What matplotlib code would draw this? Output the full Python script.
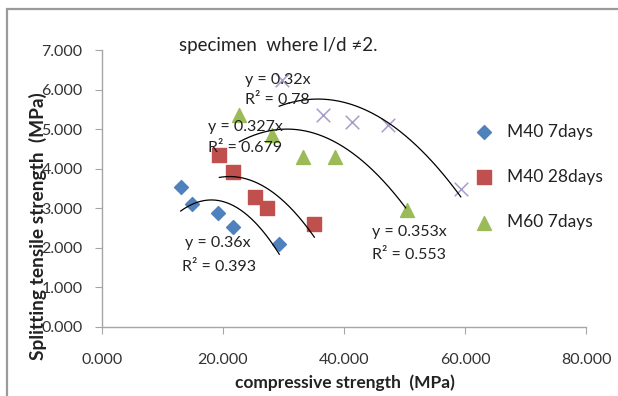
import numpy as np
import matplotlib
matplotlib.use("Agg")
import matplotlib.pyplot as plt
from matplotlib.patches import Rectangle

plt.rcParams['font.family'] = ['Lato', 'DejaVu Sans']

# ---- data ----
m40_7_x = [13.0, 14.8, 19.1, 21.6, 29.3]
m40_7_y = [3.54, 3.11, 2.88, 2.53, 2.10]
m40_28_x = [19.3, 21.7, 25.3, 27.3, 35.1]
m40_28_y = [4.35, 3.92, 3.29, 3.01, 2.60]
m60_7_x = [22.7, 28.1, 33.3, 38.5, 50.4]
m60_7_y = [5.36, 4.85, 4.30, 4.30, 2.96]
m60_28_x = [29.8, 36.5, 41.3, 47.2, 59.4]
m60_28_y = [6.24, 5.36, 5.18, 5.10, 3.49]

legend_labels = ["M40 7days", "M40 28days", "M60 7days"]

# trend curves: three points each (start, top, end)
trend_blue_x = [13.0, 18.3, 29.3]
trend_blue_y = [2.93, 3.21, 1.84]
trend_red_x = [19.4, 21.6, 35.1]
trend_red_y = [3.78, 3.80, 2.27]
trend_green_x = [22.7, 30.1, 50.2]
trend_green_y = [4.68, 5.00, 3.01]
trend_purple_x = [29.3, 35.9, 59.3]
trend_purple_y = [5.58, 5.76, 3.29]

eq_texts = ["y = 0.32x", "R\u00b2 = 0.78", "y = 0.327x", "R\u00b2 = 0.679",
            "y = 0.36x", "R\u00b2 = 0.393", "y = 0.353x", "R\u00b2 = 0.553"]
eq_x = [23.6, 23.6, 17.5, 17.5, 13.8, 13.2, 44.6, 44.6]
eq_y = [6.24, 5.74, 5.06, 4.53, 2.12, 1.52, 2.40, 1.82]

x_ticks = [0, 20, 40, 60, 80]
y_ticks = [0, 1, 2, 3, 4, 5, 6, 7]

W, H = 618, 396
fig = plt.figure(figsize=(W / 100, H / 100), dpi=100)
ax = fig.add_axes([102 / W, 1 - 327 / H, (586 - 102) / W, (327 - 50) / H])

# frame border of the picture
fig.patches.append(Rectangle((7 / W, -0.05), 1.1, 1 - 9 / H + 0.05, transform=fig.transFigure,
                             fill=False, edgecolor='#9a9a9a', lw=1.6))

ax.scatter(m40_7_x, m40_7_y, marker='D', s=50, color='#4F81BD', label=legend_labels[0], zorder=3)
ax.scatter(m40_28_x, m40_28_y, marker='s', s=90, color='#C0504D', label=legend_labels[1], zorder=3)
ax.scatter(m60_7_x, m60_7_y, marker='^', s=100, color='#9BBB59', label=legend_labels[2], zorder=3)
ax.scatter(m60_28_x, m60_28_y, marker='x', s=95, color='#A99BCC', linewidths=1.1, zorder=3)

for tx, ty in [(trend_blue_x, trend_blue_y), (trend_red_x, trend_red_y),
               (trend_green_x, trend_green_y), (trend_purple_x, trend_purple_y)]:
    c = np.polyfit(tx, ty, 2)
    xs = np.linspace(tx[0], tx[-1], 200)
    ax.plot(xs, np.polyval(c, xs), color='black', lw=0.9, zorder=4)

for t, x, y in zip(eq_texts, eq_x, eq_y):
    ax.text(x, y, t, fontsize=11.5, color='#222222', va='center', ha='left', zorder=5)

ax.set_xlim(0, 80)
ax.set_ylim(0, 7)
ax.set_xticks(x_ticks)
ax.set_yticks(y_ticks)
ax.set_xticklabels([f"{v:.3f}" for v in x_ticks])
ax.set_yticklabels([f"{v:.3f}" for v in y_ticks])
for s in ['top', 'right']:
    ax.spines[s].set_visible(False)
for s in ['left', 'bottom']:
    ax.spines[s].set_color('#a6a6a6')
    ax.spines[s].set_linewidth(1.0)
ax.tick_params(axis='both', direction='out', length=5, color='#a6a6a6', labelsize=11.5,
               labelcolor='#333333')
ax.tick_params(axis='x', pad=14)
ax.tick_params(axis='y', pad=9)

fig.text(278 / W, 1 - 45 / H, "specimen  where l/d \u22602.", fontsize=13.5, ha='center', va='center',
         color='#222222')
fig.text(345 / W, 1 - 383 / H, "compressive strength  (MPa)", fontsize=12.5, fontweight='bold',
         ha='center', va='center', color='#222222')
fig.text(38 / W, 1 - 226 / H, "Splitting tensile strength  (MPa)", fontsize=13.8, fontweight='bold',
         ha='center', va='center', rotation=90, color='#222222')

fig.legend(loc='center left', bbox_to_anchor=(475 / W, 1 - 177 / H), frameon=False,
           fontsize=12.5, borderpad=0, borderaxespad=0, handlelength=1.0, handletextpad=0.85,
           labelspacing=1.68, scatterpoints=1, labelcolor='#222222')

fig.savefig("out.png", dpi=100)
